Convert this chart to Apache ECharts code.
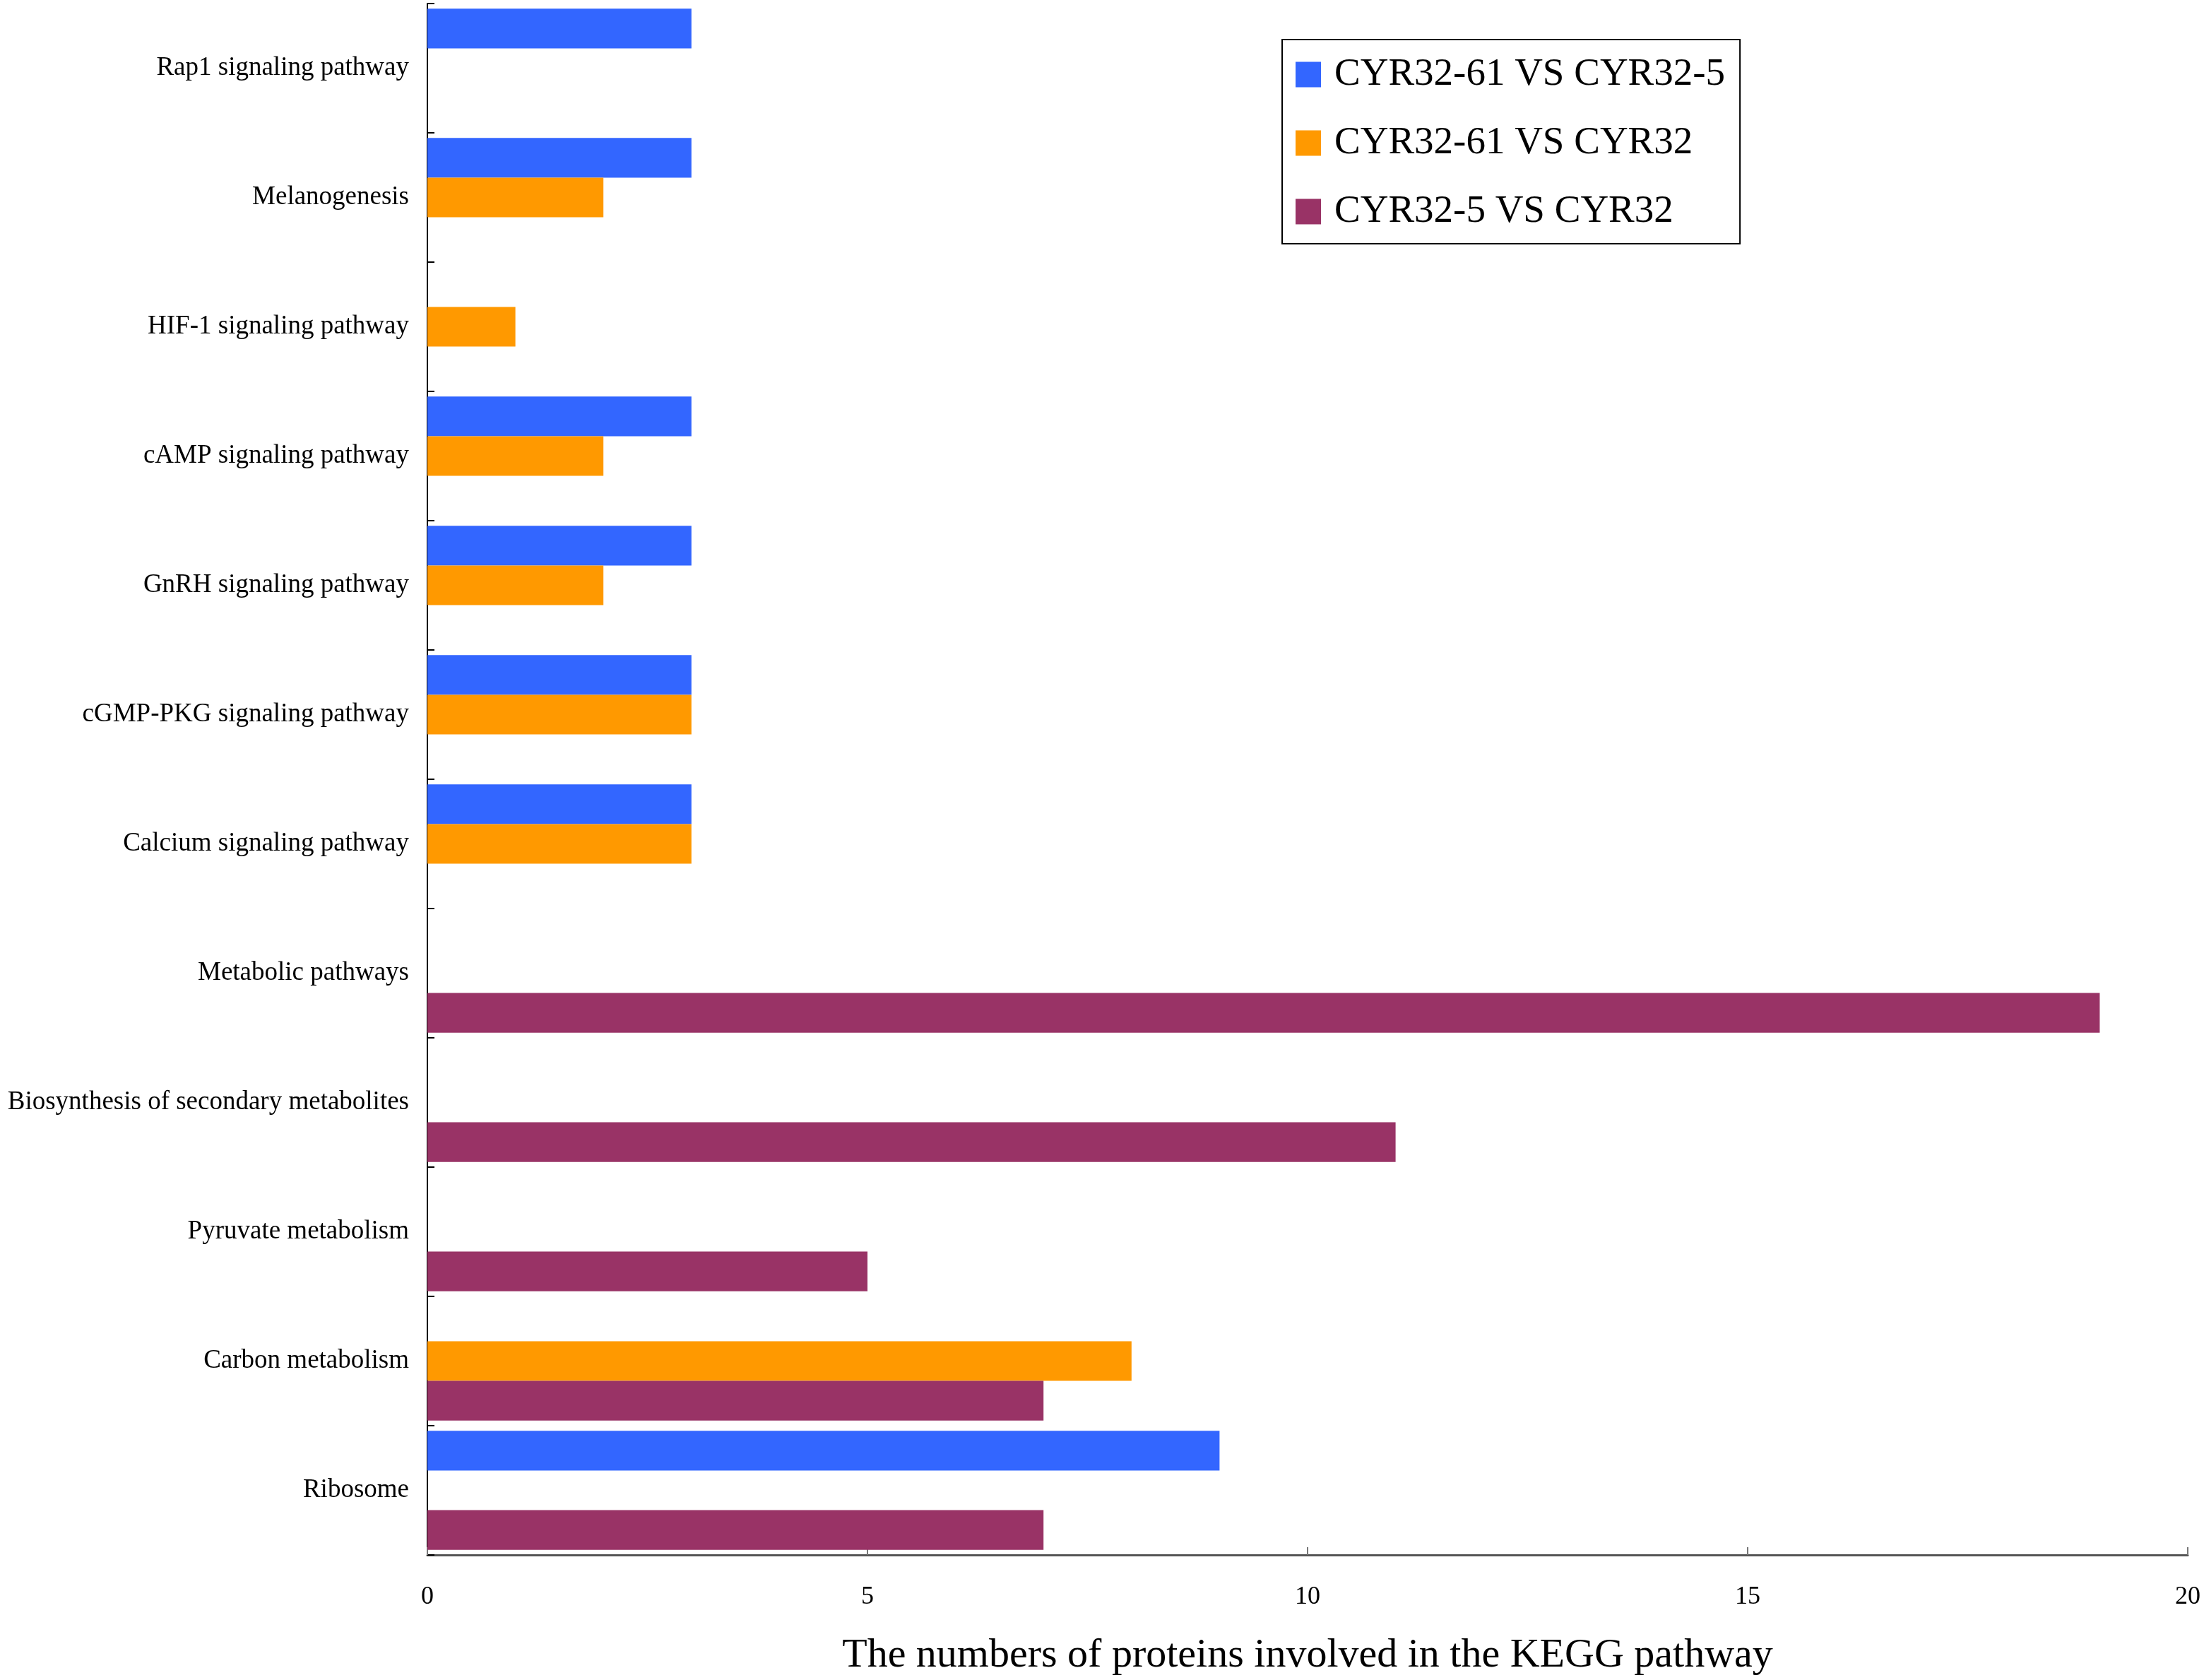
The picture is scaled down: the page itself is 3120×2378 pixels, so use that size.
<!DOCTYPE html>
<html>
<head>
<meta charset="utf-8">
<title>KEGG pathway protein counts</title>
<script src="https://cdn.jsdelivr.net/npm/echarts@6/dist/echarts.min.js"></script>
<style>
  html, body { margin: 0; padding: 0; background: #fff; }
  #chart { width: 3120px; height: 2378px; }
</style>
</head>
<body>
<div id="chart"></div>
<script>
// categories, bottom to top as drawn on the y axis
const pathways = [
  'Ribosome',
  'Carbon metabolism',
  'Pyruvate metabolism',
  'Biosynthesis of secondary metabolites',
  'Metabolic pathways',
  'Calcium signaling pathway',
  'cGMP-PKG signaling pathway',
  'GnRH signaling pathway',
  'cAMP signaling pathway',
  'HIF-1 signaling pathway',
  'Melanogenesis',
  'Rap1 signaling pathway'
];

const seriesNames = ['CYR32-61 VS CYR32-5', 'CYR32-61 VS CYR32', 'CYR32-5 VS CYR32'];

const v61vs5  = [9, 0, 0, 0, 0, 3, 3, 3, 3, 0, 3, 3];
const v61vs32 = [0, 8, 0, 0, 0, 3, 3, 2, 2, 1, 2, 0];
const v5vs32  = [7, 7, 5, 11, 19, 0, 0, 0, 0, 0, 0, 0];

const xTicks = { min: 0, max: 20, interval: 5 };

const colors = ['#3366FF', '#FF9900', '#993366'];
const serif = 'Liberation Serif, Times New Roman, serif';

var myChart = echarts.init(document.getElementById('chart'));

// first series is drawn at the top of each band
var dataSets = [v61vs5, v61vs32, v5vs32];
var series = dataSets.map(function (d, i) {
  return {
    name: seriesNames[i],
    type: 'bar',
    data: d,
    itemStyle: { color: colors[i] },
    barGap: '0%',
    barCategoryGap: '8%'
  };
});

var option = {
  animation: false,
  backgroundColor: '#fff',
  textStyle: { fontFamily: serif },
  legend: {
    data: seriesNames,
    orient: 'vertical',
    left: 1815,
    top: 56,
    padding: [22, 21, 18, 19],
    itemWidth: 36,
    itemHeight: 36,
    itemGap: 42,
    icon: 'rect',
    borderColor: '#000',
    borderWidth: 2,
    textStyle: {
      fontFamily: serif,
      fontSize: 55,
      color: '#000',
      padding: [0, 0, 0, 14]
    }
  },
  grid: {
    left: 605,
    right: 23,
    top: 5,
    bottom: 173,
    containLabel: false
  },
  xAxis: {
    type: 'value',
    min: xTicks.min,
    max: xTicks.max,
    interval: xTicks.interval,
    name: 'The numbers of proteins involved in the KEGG pathway',
    nameLocation: 'middle',
    nameGap: 114,
    nameTextStyle: { fontFamily: serif, fontSize: 58, color: '#000' },
    axisLine: { show: true, lineStyle: { color: '#555', width: 3 } },
    axisTick: { show: true, inside: true, length: 11, lineStyle: { color: '#777', width: 2 } },
    axisLabel: { margin: 42, fontFamily: serif, fontSize: 36, color: '#000' },
    splitLine: { show: false }
  },
  yAxis: {
    type: 'category',
    data: pathways,
    axisLine: { show: true, lineStyle: { color: '#000', width: 2 } },
    axisTick: { show: true, inside: true, length: 10, lineStyle: { color: '#000', width: 2 } },
    axisLabel: { margin: 26, fontFamily: serif, fontSize: 37, color: '#000' },
    splitLine: { show: false }
  },
  series: series
};

myChart.setOption(option);
</script>
</body>
</html>
